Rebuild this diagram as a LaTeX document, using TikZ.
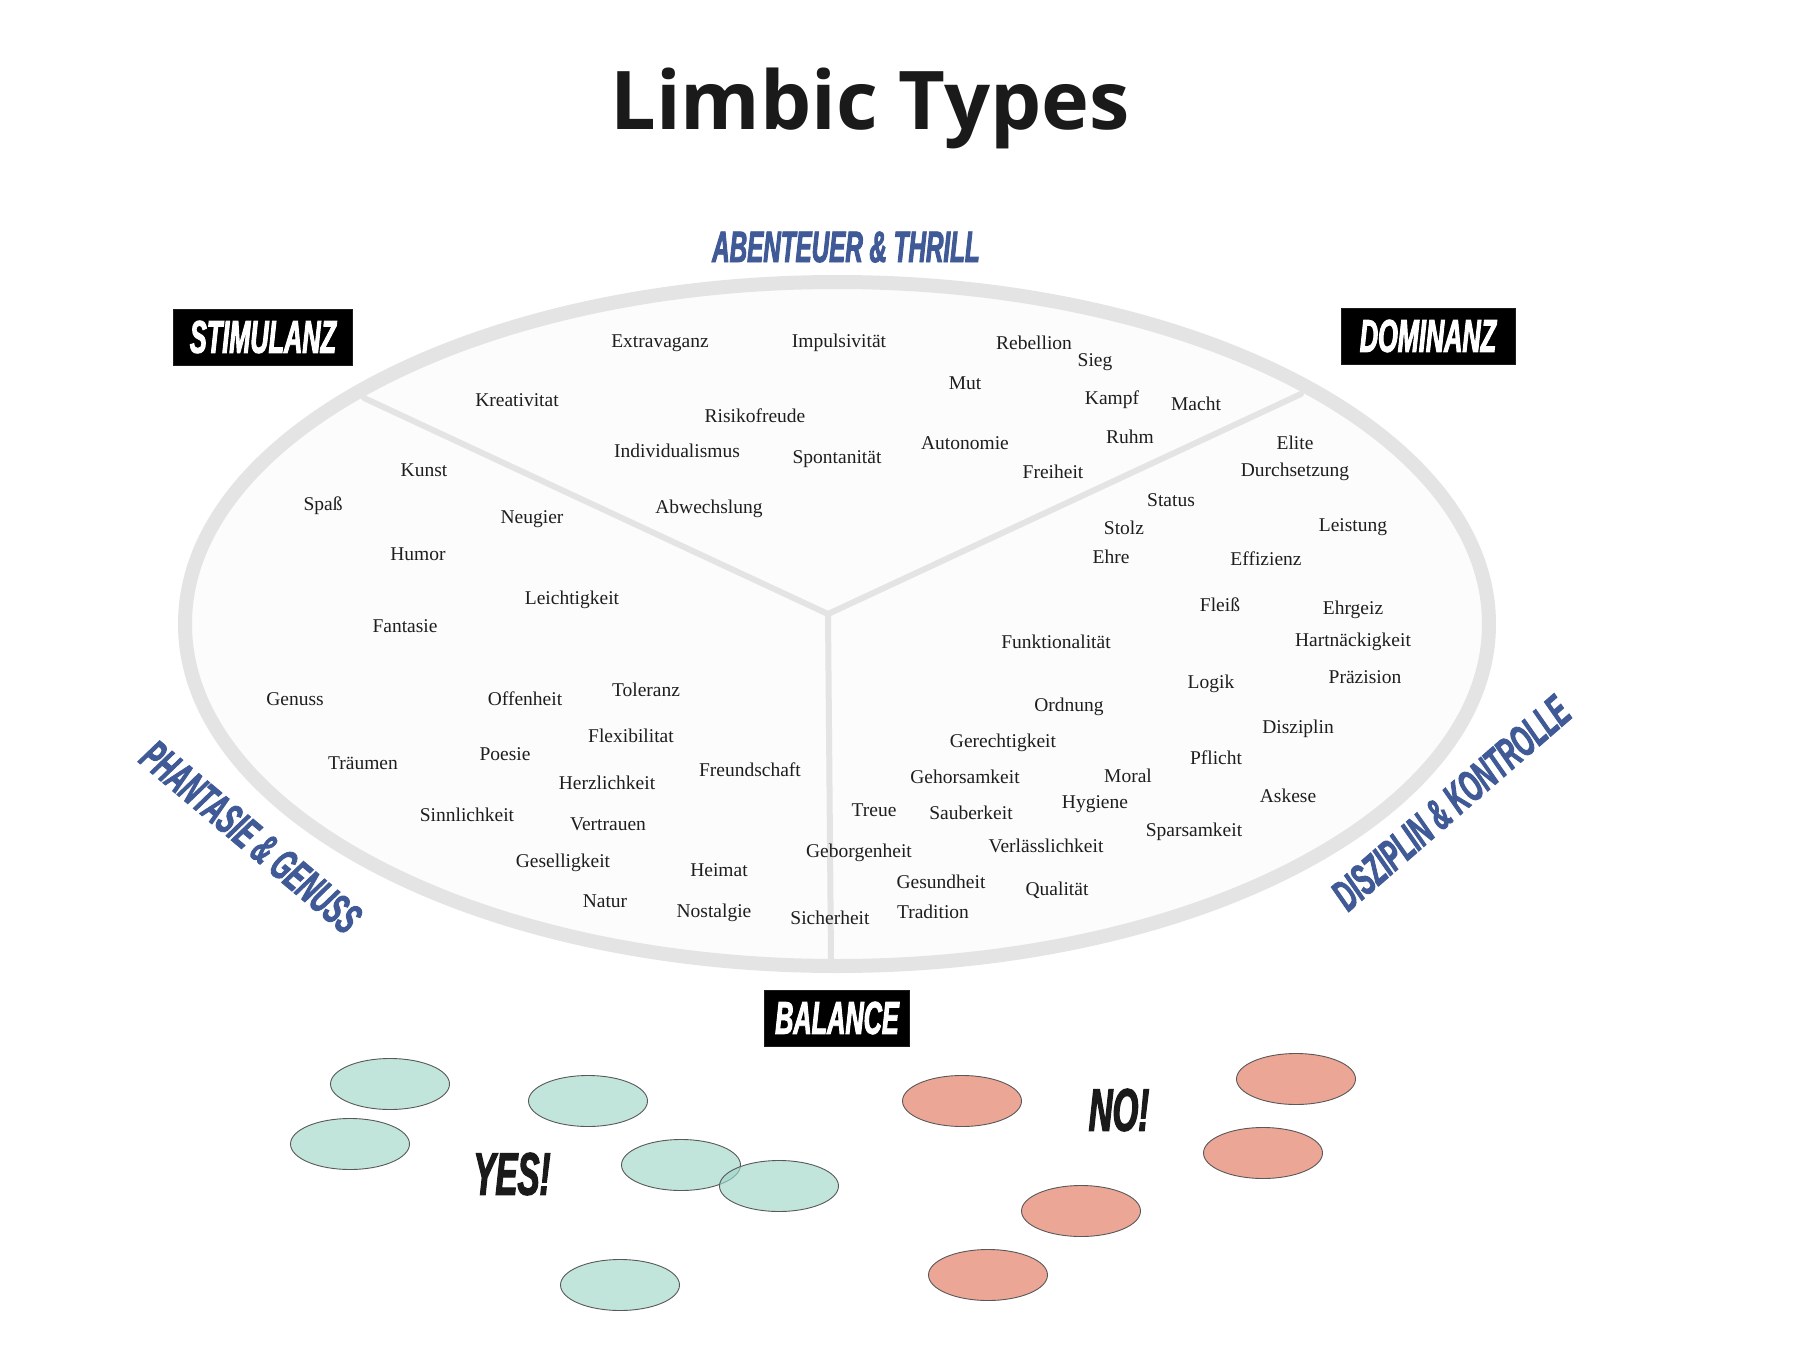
\documentclass[tikz,border=0pt]{standalone}
\usepackage{fontspec}
\setmainfont{Liberation Serif}
\newfontfamily\titlefont{Open Sans}
\newfontfamily\comicfont[FakeStretch=0.55,FakeBold=2]{Liberation Sans}
\usetikzlibrary{shapes.geometric}
\definecolor{ringgray}{HTML}{E4E4E4}
\definecolor{innerfill}{HTML}{FCFCFC}
\definecolor{labelblue}{HTML}{3F5A97}
\definecolor{tealfill}{HTML}{A0D6C9}
\definecolor{salmonfill}{HTML}{ECA696}
\definecolor{wordcol}{HTML}{1E1E1E}
\definecolor{titlecol}{HTML}{1A1A1A}
\definecolor{boxedge}{HTML}{1C1C1C}
\begin{document}
\begin{tikzpicture}[x=1pt,y=-1pt,
  word/.style={inner sep=0pt, text=wordcol, font=\fontsize{19.5}{22}\selectfont},
  sector/.style={inner sep=0pt, text=labelblue, font=\comicfont\bfseries\itshape\fontsize{44}{50}\selectfont},
  tagbox/.style={inner sep=0pt, fill=black, draw=boxedge, line width=1pt, text=white,
     minimum height=56pt, font=\comicfont\bfseries\itshape\fontsize{46}{50}\selectfont},
  shout/.style={inner sep=0pt, text=titlecol, font=\comicfont\bfseries\itshape\fontsize{60}{64}\selectfont},
  blob/.style={ellipse, draw=black!65, line width=0.9pt, minimum width=119pt, minimum height=51pt, inner sep=0pt},
  yesblob/.style={blob, fill=tealfill, fill opacity=0.65},
  noblob/.style={blob, fill=salmonfill},
  ring/.style={draw=ringgray, line width=14pt, fill=innerfill},
  divider/.style={draw=ringgray, line width=6pt, line cap=round, line join=round}
]
\useasboundingbox[fill=white] (0,0) rectangle (1800,1359);

% title
\node[inner sep=0pt, text=titlecol, font=\titlefont\bfseries\fontsize{81}{96}\selectfont] (title) at (870,108) {Limbic Types};

% ring
\draw[ring] (837,624) ellipse [x radius=652, y radius=342];

% dividers
\coordinate (hub) at (828,614);
\coordinate (dUL) at (364,398);
\coordinate (dUR) at (1301,394);
\coordinate (dB) at (831,959);
\draw[divider] (dUL) -- (hub) -- (dUR);
\draw[divider] (hub) -- (dB);

% sector labels
\node[sector] (sAT) at (846,247) {ABENTEUER \& THRILL};
\node[sector, rotate=-40] (sPG) at (251,837) {PHANTASIE \& GENUSS};
\node[sector, rotate=41] (sDK) at (1451,803) {DISZIPLIN \& KONTROLLE};

% tag boxes
\node[tagbox, minimum width=179pt] (tStim) at (263,337) {STIMULANZ};
\node[tagbox, minimum width=174pt] (tDom) at (1428,336) {DOMINANZ};
\node[tagbox, minimum width=145pt] (tBal) at (837,1018) {BALANCE};

% words
\foreach \t/\x/\y [count=\i] in {
 Extravaganz/660/343, Impulsivität/839/343, Rebellion/1034/343, Sieg/1095/362,
 Mut/965/383, Kampf/1112/400, Macht/1196/404, Kreativitat/517/400,
 Risikofreude/755/416, Individualismus/677/451, Spontanität/837/459,
 Autonomie/965/443, Ruhm/1130/437, Freiheit/1053/472, Abwechslung/709/509,
 Elite/1295/443, Durchsetzung/1295/472, Status/1171/500, Stolz/1124/528,
 Leistung/1353/527, Ehre/1111/557, Effizienz/1266/559, Fleiß/1220/605,
 Ehrgeiz/1353/610, Funktionalität/1056/642, Hartnäckigkeit/1353/642,
 Präzision/1365/677, Logik/1211/684, Ordnung/1069/707, Disziplin/1298/729,
 Gerechtigkeit/1003/743, Pflicht/1216/758, Gehorsamkeit/965/777, Moral/1128/776,
 Askese/1288/796, Hygiene/1095/804, Treue/874/810, Sauberkeit/971/813,
 Sparsamkeit/1194/832, Verlässlichkeit/1046/846, Geborgenheit/859/853,
 Gesundheit/941/882, Qualität/1057/890, Tradition/933/912, Sicherheit/830/918,
 Kunst/424/470, Spaß/323/506, Neugier/532/519, Humor/418/554,
 Leichtigkeit/572/600, Fantasie/405/626, Genuss/295/699, Offenheit/525/699,
 Toleranz/646/690, Flexibilitat/631/736, Träumen/363/763, Poesie/505/754,
 Freundschaft/750/770, Herzlichkeit/607/783, Sinnlichkeit/467/815,
 Vertrauen/608/824, Geselligkeit/563/863, Heimat/719/870, Natur/605/901,
 Nostalgie/714/913}
 \node[word] (w\i) at (\x,\y) {\t};

% YES / NO
\node[shout] (yes) at (512,1174) {YES!};
\node[shout] (no) at (1119,1110) {NO!};

% teal ellipses
\node[yesblob] (y1) at (390,1084) {};
\node[yesblob] (y2) at (350,1144) {};
\node[yesblob] (y3) at (588,1101) {};
\node[yesblob] (y4) at (681,1165) {};
\node[yesblob] (y5) at (779,1186) {};
\node[yesblob] (y6) at (620,1285) {};

% salmon ellipses
\node[noblob] (n1) at (962,1101) {};
\node[noblob] (n2) at (1296,1079) {};
\node[noblob] (n3) at (1263,1153) {};
\node[noblob] (n4) at (1081,1211) {};
\node[noblob] (n5) at (988,1275) {};
\end{tikzpicture}
\end{document}
